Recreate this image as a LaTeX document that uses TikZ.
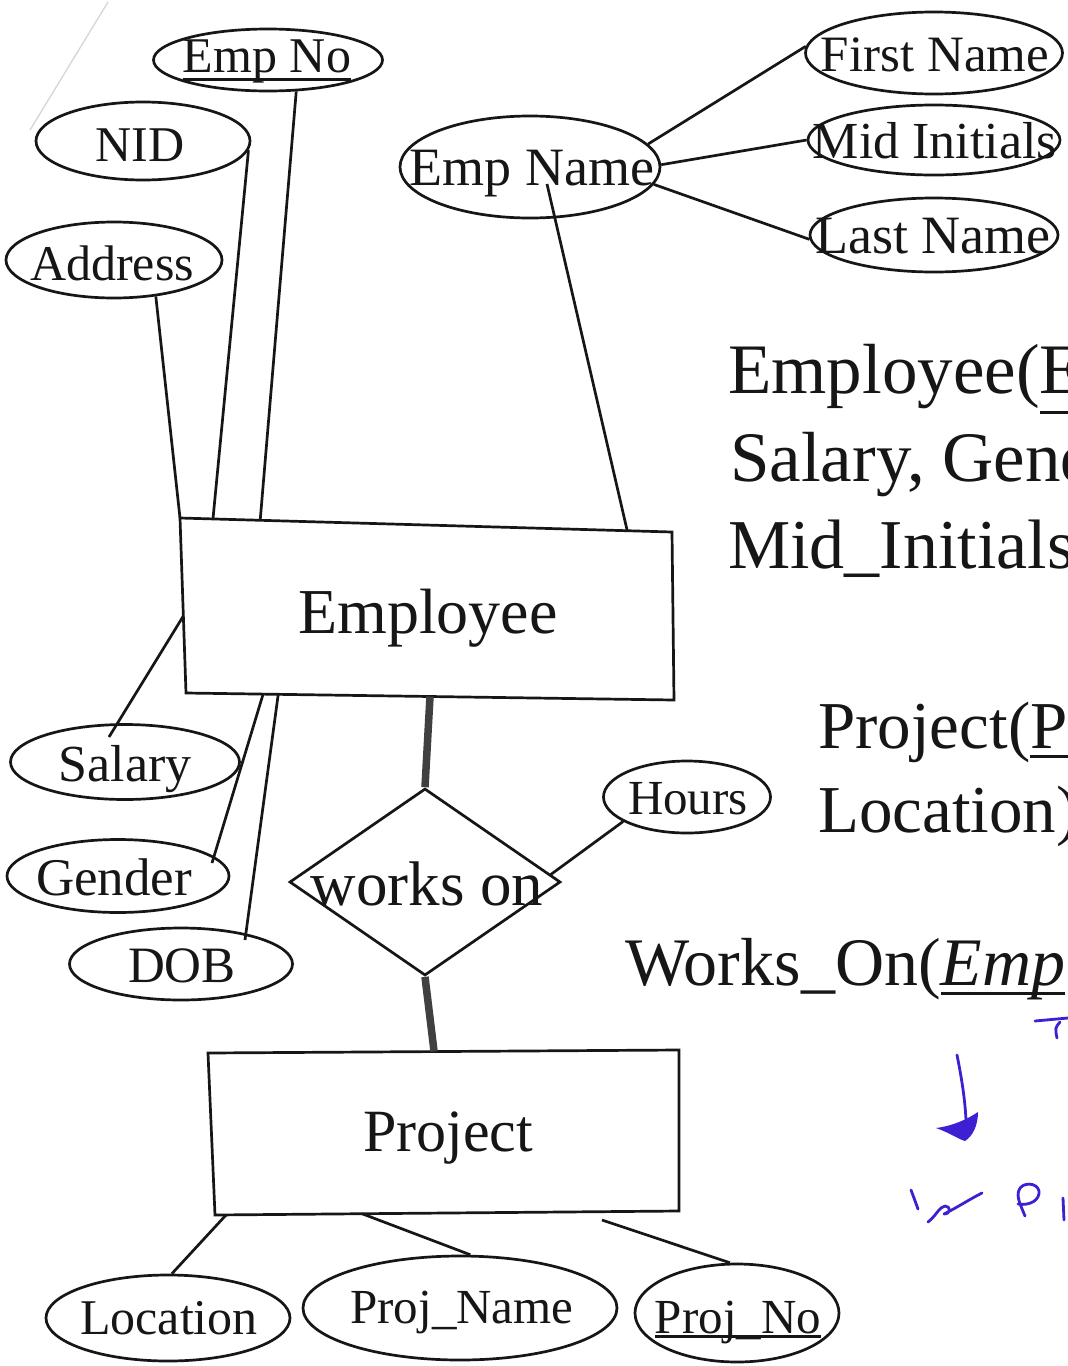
\documentclass[tikz,border=0pt]{standalone}
\usepackage{fontspec}
\setmainfont{Liberation Serif}
\usetikzlibrary{shapes.geometric,calc}
\definecolor{inkline}{RGB}{22,22,22}
\definecolor{penblue}{RGB}{62,32,210}
% font size in points, where one point is one unit of the picture
\newcommand\erfont[1]{\fontsize{#1}{#1}\selectfont}
% key underline at a fixed depth below the baseline
\newcommand\keyul[2][0.15em]{\setbox0=\hbox{#2}\rlap{\rule[-#1]{\wd0}{0.05em}}\box0}
% attribute: name, x, y, width, height, font size, text, text x, text y
\newcommand\erattr[9]{%
  \node[attr, minimum width=#4, minimum height=#5] (#1) at (#2,#3) {};
  \node[attrtext, font=\erfont{#6}] (#1-label) at (#8,#9) {#7};}

\begin{document}
\begin{tikzpicture}[x=1pt, y=-1pt,
  attr/.style={ellipse, draw=inkline, line width=2.7pt, inner sep=0pt},
  attrtext/.style={inner sep=0pt, text=inkline},
  entity/.style={draw=inkline, line width=2.7pt, line join=miter},
  link/.style={draw=inkline, line width=2.7pt},
  total/.style={draw=black!75, line width=7.5pt},
  rel/.style={diamond, draw=inkline, line width=2.7pt, inner sep=0pt,
              minimum width=271, minimum height=187},
  schema/.style={anchor=base west, inner sep=0pt, text=inkline},
  pen/.style={draw=penblue, line width=2.8pt, line cap=round, line join=round},
]
\fill[white] (0,0) rectangle (1068,1366);
\useasboundingbox (0,0) rectangle (1068,1366);
\clip (0,0) rectangle (1068,1366);

% fold mark on the sheet
\draw[black!16, line width=1.3pt] (108,2) -- (30,130);

% ---------- Employee entity ----------
\coordinate (emp-nw) at (180,518);
\coordinate (emp-ne) at (672,532);
\coordinate (emp-se) at (674,700);
\coordinate (emp-sw) at (186,693);
\draw[entity] (emp-nw) -- (emp-ne) -- (emp-se) -- (emp-sw) -- cycle;
\node[attrtext, font=\erfont{64}] (employee) at (428,618) {Employee};

% ---------- Employee attributes ----------
\erattr{empno}{268}{60}{229}{62}{50}{\keyul[0.17em]{Emp No}}{267}{61}
\erattr{nid}{143}{141}{214}{78}{50}{NID}{140}{145}
\erattr{address}{114}{260}{216}{76}{50}{Address}{112}{263}
\erattr{empname}{530}{167}{260}{102}{54}{Emp Name}{532}{174}
\erattr{firstname}{934}{53}{257}{82}{51}{First Name}{935}{55}
\erattr{midinit}{934}{140}{252}{70}{52}{Mid Initials}{935}{141}
\erattr{lastname}{934}{235}{248}{74}{54}{Last Name}{933}{236}
\erattr{salary}{125}{762}{229}{75}{52}{Salary}{125}{769}
\erattr{gender}{118}{876}{222}{73}{53}{Gender}{114}{877}
\erattr{dob}{181}{964}{223}{72}{51}{DOB}{182}{966}

\draw[link] (empno.-48) -- ($(emp-nw)!0.163!(emp-ne)$);
\draw[link] (nid.-5) -- ($(emp-nw)!0.067!(emp-ne)$);
\draw[link] (address.-41) -- (emp-nw);
\draw[link] ($(empname.center)+(17,17)$) -- ($(emp-nw)!0.909!(emp-ne)$);
\draw[link] (empname.11) -- (firstname.177);
\draw[link] (empname.1) -- (midinit.west);
\draw[link] (empname.-8) -- (lastname.182);
\draw[link] ($(salary.center)+(-16,-25)$) -- ($(emp-nw)!0.56!(emp-sw)$);
\draw[link] ($(gender.center)+(94,-13)$) -- ($(emp-sw)!0.158!(emp-se)$);
\draw[link] ($(dob.center)+(64,-24)$) -- ($(emp-sw)!0.189!(emp-se)$);

% ---------- works on relationship ----------
\node[rel] (works) at (425,882) {};
\node[attrtext, font=\erfont{63}] (works-label) at (427,884) {works on};
\erattr{hours}{687}{797}{167}{72}{49}{Hours}{688}{799}
\draw[link] ($(works.east)!0.08!(works.north)$) -- (hours.201);

% ---------- Project entity ----------
\coordinate (proj-nw) at (208,1053);
\coordinate (proj-ne) at (679,1050);
\coordinate (proj-se) at (679,1211);
\coordinate (proj-sw) at (215,1215);
\draw[entity] (proj-nw) -- (proj-ne) -- (proj-se) -- (proj-sw) -- cycle;
\node[attrtext, font=\erfont{60}] (project) at (448,1138) {Project};

\draw[total] ($(emp-sw)!0.50!(emp-se)$) -- (works.north);
\draw[total] (works.south) -- ($(proj-nw)!0.48!(proj-ne)$);

\erattr{location}{168}{1318}{244}{86}{50}{Location}{169}{1318}
\erattr{projname}{460}{1308}{314}{104}{49}{Proj\_Name}{462}{1312}
\erattr{projno}{737}{1313}{204}{98}{49}{\keyul[0.1em]{Proj\_No}}{738}{1322}

\coordinate (projno-stub) at (602,1220);
\draw[link] ($(proj-sw)!0.024!(proj-se)$) -- (location.85);
\draw[link] ($(proj-sw)!0.317!(proj-se)$) -- (projname.79);
\draw[link] (projno-stub) -- (projno.98);

% ---------- relational schema ----------
\node[schema, font=\erfont{71}] (rel-emp-1) at (728,393) {Employee(\keyul[0.3em]{E}};
\node[schema, font=\erfont{71}] (rel-emp-2) at (730,481) {Salary, Gend};
\node[schema, font=\erfont{70}] (rel-emp-3) at (728,568) {Mid\_Initials};
\node[schema, font=\erfont{67}] (rel-proj-1) at (818,748) {Project(\keyul{P}};
\node[schema, font=\erfont{67}] (rel-proj-2) at (818,832) {Location)};
\node[schema, font=\erfont{68}] (rel-works) at (625,985) {Works\_On(\keyul{\textit{Emp}}};

% ---------- pen notes ----------
\draw[pen] (1035,1021) -- (1068,1018);
\draw[pen] (1060,1022) .. controls (1055,1028) .. (1057,1038);
\draw[pen] (957,1055) .. controls (962,1080) and (965,1100) .. (966,1120);
\fill[penblue] (936,1128) .. controls (952,1126) and (966,1120) .. (978,1112)
  .. controls (978,1125) and (973,1136) .. (965,1141)
  .. controls (958,1139) and (950,1133) .. (936,1128) -- cycle;
\draw[pen] (911,1190) .. controls (914,1198) .. (918,1209);
\draw[pen] (928,1222) .. controls (936,1216) and (939,1207) .. (945,1206)
  .. controls (951,1206) and (951,1214) .. (944,1214)
  .. controls (958,1207) and (970,1199) .. (982,1193);
\draw[pen] (1025,1216) .. controls (1021,1206) and (1016,1197) .. (1019,1190)
  .. controls (1022,1182) and (1037,1182) .. (1039,1191)
  .. controls (1040,1200) and (1030,1206) .. (1018,1204);
\draw[pen] (1063,1198) -- (1064,1220);
\end{tikzpicture}
\end{document}
